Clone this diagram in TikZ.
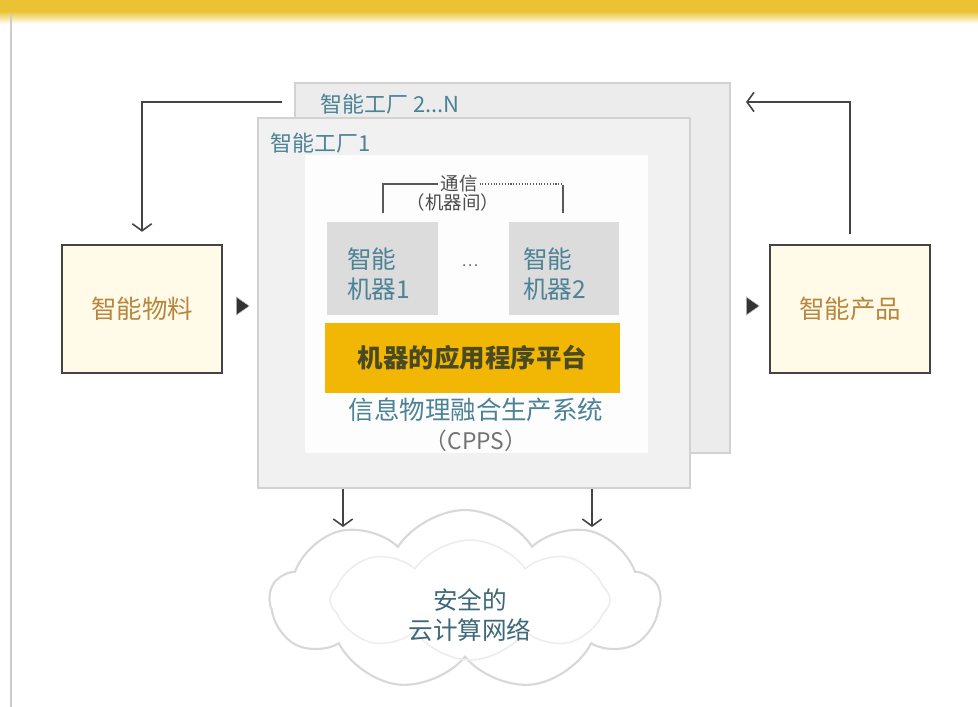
\documentclass[tikz,border=0pt]{standalone}
\usepackage{fontspec}
\setmainfont{Noto Sans CJK SC}
\usetikzlibrary{arrows.meta,shapes.geometric,shapes.symbols}
\definecolor{frameborder}{HTML}{D2D2D2}
\definecolor{backfill}{HTML}{ECECEC}
\definecolor{frontfill}{HTML}{F1F1F1}
\definecolor{panelfill}{HTML}{FDFDFD}
\definecolor{machfill}{HTML}{DCDCDC}
\definecolor{platfill}{HTML}{F2B705}
\definecolor{plattext}{HTML}{4A4A22}
\definecolor{tealtext}{HTML}{4C8296}
\definecolor{goldtext}{HTML}{B8863E}
\definecolor{boxfill}{HTML}{FFFBE8}
\definecolor{boxline}{HTML}{444444}
\definecolor{titlebar}{HTML}{EBC234}
\definecolor{cloudline}{HTML}{D8D8D8}
\tikzset{
  framebox/.style={draw=frameborder, line width=1.2pt, inner sep=0pt},
  machbox/.style={fill=machfill, inner sep=0pt, minimum width=2.22cm, minimum height=1.86cm},
  endbox/.style={draw=boxline, fill=boxfill, line width=1.4pt, inner sep=0pt,
    minimum width=3.2cm, minimum height=2.56cm, text=goldtext, font=\fontsize{14.5}{16}\selectfont},
  tealabel/.style={text=tealtext, inner sep=0pt},
  arr/.style={draw=boxline, line width=0.9pt, -{Straight Barb[length=4pt,width=11pt]}},
  playtri/.style={isosceles triangle, isosceles triangle apex angle=70, fill=black!80,
    draw=black!25, line width=0.3pt, inner sep=0pt, minimum height=0.26cm, minimum width=0.28cm}
}
\begin{document}
\begin{tikzpicture}[x=0.02cm,y=-0.02cm]
\useasboundingbox (0,0) rectangle (978,707);
\fill[white] (0,0) rectangle (978,707);
% title bar
\fill[titlebar] (0,0) rectangle (978,11);
\shade[top color=titlebar, bottom color=white] (0,11) rectangle (978,24);
\draw[black!20, line width=1.2pt] (11,14) -- (11,707);

% factory boxes
\node[framebox, fill=backfill, minimum width=8.7cm, minimum height=7.4cm] (back) at (512.5,268) {};
\node[tealabel, font=\fontsize{12.5}{14}\selectfont, anchor=west] (backlabel) at (320,104) {智能工厂 2...N};
\node[framebox, fill=frontfill, minimum width=8.64cm, minimum height=7.4cm] (f1) at (474,303) {};
\node[tealabel, font=\fontsize{12.5}{14}\selectfont, anchor=west] (f1label) at (270,143) {智能工厂1};
\node[fill=panelfill, inner sep=0pt, minimum width=6.86cm, minimum height=5.96cm] (panel) at (476.5,304) {};

% communication bracket
\node[text=black!70, font=\fontsize{10.5}{12}\selectfont, inner sep=1pt] (comm) at (459,184) {通信};
\node[text=black!70, font=\fontsize{10.5}{12}\selectfont, inner sep=1pt] (commsub) at (453,202) {（机器间）};
\coordinate (bl) at (383,213);
\coordinate (br) at (563,213);
\draw[black!65, line width=0.6pt] (bl) |- (comm.west);
\draw[black!65, line width=0.6pt, densely dotted] (comm.east) -| (br);
\draw[black!65, line width=0.6pt] (563,185) -- (br);

% machines
\node[machbox] (m1) at (382.5,268.5) {};
\node[tealabel, font=\fontsize{14}{17}\selectfont, align=left, anchor=west] (m1t) at (347,274) {智能\\机器1};
\node[machbox] (m2) at (564,268.5) {};
\node[tealabel, font=\fontsize{14}{17}\selectfont, align=left, anchor=west] (m2t) at (523,274) {智能\\机器2};
\node[text=black!55, font=\fontsize{9}{10}\selectfont] (dots) at (470,266) {…};

% platform
\node[fill=platfill, inner sep=0pt, minimum width=5.9cm, minimum height=1.4cm,
  text=plattext, font=\bfseries\fontsize{14.5}{16}\selectfont] (plat) at (472.5,358) {机器的应用程序平台};
\node[tealabel, font=\fontsize{14.5}{17}\selectfont] (cpps1) at (476,410) {信息物理融合生产系统};
\node[text=black!55, font=\fontsize{13}{15}\selectfont] (cpps2) at (476,441) {（CPPS）};

% side boxes
\node[endbox] (mat) at (142,309) {智能物料};
\node[endbox] (prod) at (850,309) {智能产品};
\node[playtri] (t1) at (241,306) {};
\node[playtri] (t2) at (751,306) {};

% connectors
\coordinate (c1) at (282,102);
\coordinate (c2) at (746,102);
\draw[arr, shorten >=0.24cm] (c1) -| (mat.north);
\draw[arr, shorten <=0.2cm] (prod.north) |- (c2);
\coordinate (d1) at (343,527);
\coordinate (d2) at (592,527);
\draw[arr] (d1 |- f1.south) -- (d1);
\draw[arr] (d2 |- f1.south) -- (d2);

% cloud
\node[cloud, cloud puffs=9, cloud puff arc=115, aspect=2.1, draw=cloudline, line width=1.2pt,
  fill=white, minimum width=7.8cm, minimum height=3.6cm, inner sep=0pt] (cloud) at (465,600) {};
\node[cloud, cloud puffs=8, cloud puff arc=110, aspect=2.2, draw=black!7, line width=0.9pt,
  minimum width=5.6cm, minimum height=2.4cm, inner sep=0pt] (cloudin) at (470,600) {};
\node[text=tealtext!80!black, font=\fontsize{14}{17}\selectfont, align=center] (cloudt) at (470,615) {安全的\\云计算网络};
\end{tikzpicture}
\end{document}
